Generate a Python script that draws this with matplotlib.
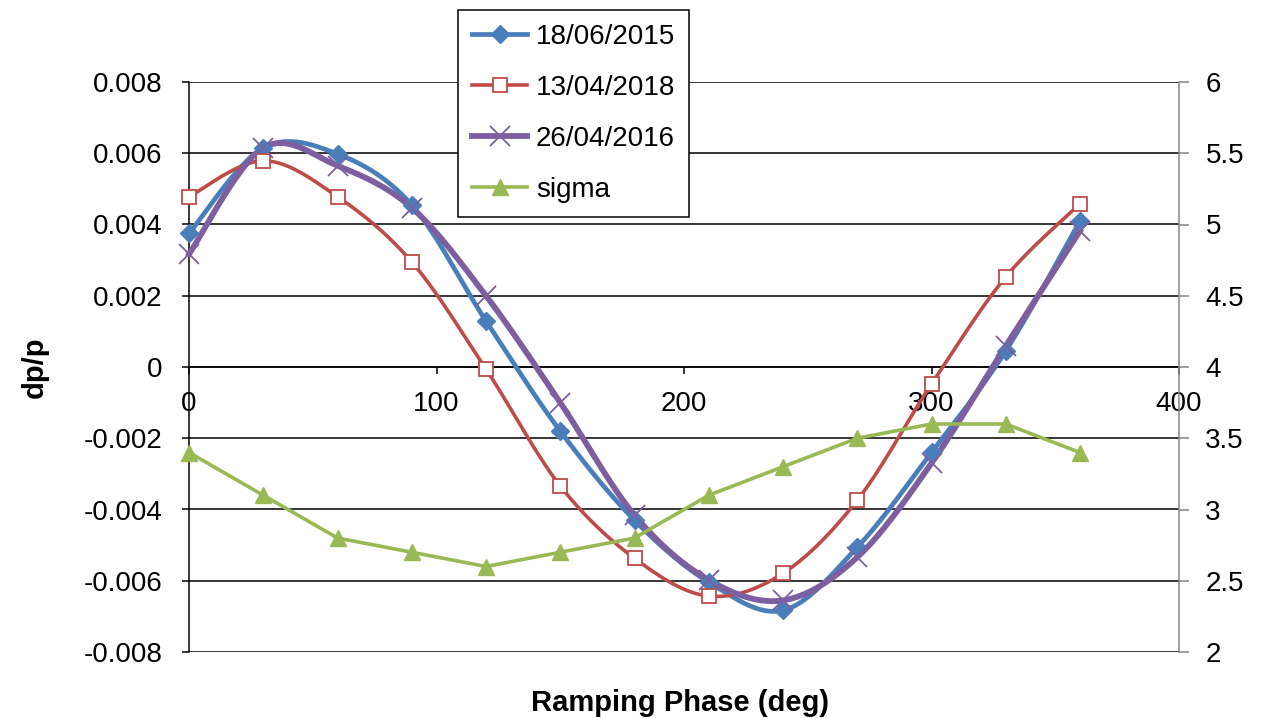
import numpy as np
import matplotlib
matplotlib.use("Agg")
import matplotlib.pyplot as plt

# --- Data ---
phase = [0, 30, 60, 90, 120, 150, 180, 210, 240, 270, 300, 330, 360]

dp_2015 = [0.00375, 0.00615, 0.00598, 0.00455, 0.00129, -0.00180, -0.00430,
           -0.00604, -0.00683, -0.00506, -0.00240, 0.00045, 0.00410]
dp_2018 = [0.00478, 0.00579, 0.00478, 0.00295, -0.00006, -0.00334, -0.00537,
           -0.00643, -0.00579, -0.00374, -0.00048, 0.00253, 0.00458]
dp_2016 = [0.00317, 0.00615, 0.00565, 0.00447, 0.00200, -0.00100, -0.00416,
           -0.00598, -0.00655, -0.00534, -0.00270, 0.00059, 0.00382]
sigma = [3.4, 3.1, 2.8, 2.7, 2.6, 2.7, 2.8, 3.1, 3.3, 3.5, 3.6, 3.6, 3.4]

left_ticks = [-0.008, -0.006, -0.004, -0.002, 0, 0.002, 0.004, 0.006, 0.008]
right_ticks = [2, 2.5, 3, 3.5, 4, 4.5, 5, 5.5, 6]
x_ticks = [0, 100, 200, 300, 400]

BLUE = "#4A7EBB"
RED = "#BE4B48"
PURPLE = "#7D5FA0"
GREEN = "#98B954"
GREY = "#868686"


def smooth(xs, ys, n=30):
    """Excel-like smoothed line (Catmull-Rom through the points)."""
    p = np.column_stack([xs, ys]).astype(float)
    p = np.vstack([p[0], p, p[-1]])
    out = []
    t = np.linspace(0, 1, n)[:, None]
    for i in range(1, len(p) - 2):
        p0, p1, p2, p3 = p[i - 1], p[i], p[i + 1], p[i + 2]
        c1 = p1 + (p2 - p0) / 6.0
        c2 = p2 - (p3 - p1) / 6.0
        seg = ((1 - t) ** 3) * p1 + 3 * ((1 - t) ** 2) * t * c1 \
            + 3 * (1 - t) * t ** 2 * c2 + t ** 3 * p2
        out.append(seg if i == 1 else seg[1:])
    out = np.vstack(out)
    return out[:, 0], out[:, 1]


plt.rcParams['font.family'] = ['Liberation Sans', 'DejaVu Sans']
plt.rcParams['axes.unicode_minus'] = False

fig = plt.figure(figsize=(12.71, 7.18), dpi=100)
ax = fig.add_axes([189 / 1271, 1 - 652 / 718, (1179 - 189) / 1271, (652 - 82) / 718])
ax2 = ax.twinx()

# --- Primary axis series ---
series = [
    (dp_2015, BLUE, 3.4, dict(marker='D', ms=9, mfc=BLUE, mec=BLUE), "18/06/2015"),
    (dp_2018, RED, 2.6, dict(marker='s', ms=10, mfc='white', mec=RED, mew=1.3), "13/04/2018"),
    (dp_2016, PURPLE, 4.2, dict(marker='x', ms=14, mec=PURPLE, mew=1.3), "26/04/2016"),
]
handles = []
for ys, col, lw, mk, lab in series:
    sx, sy = smooth(phase, ys)
    ax.plot(sx, sy, color=col, lw=lw, clip_on=False, zorder=3)
    ax.plot(phase, ys, ls='none', clip_on=False, zorder=4, **mk)
    h, = ax.plot([], [], color=col, lw=lw, **mk)
    h.set_label(lab)
    handles.append(h)

# --- Secondary axis: sigma ---
hs, = ax2.plot(phase, sigma, color=GREEN, lw=2.6, marker='^', ms=11,
               mfc=GREEN, mec=GREEN, clip_on=False, label="sigma")
handles.append(hs)

ax.set_xlim(0, 400)
ax.set_ylim(-0.008, 0.008)
ax2.set_ylim(2, 6)

ax.set_xticks(x_ticks)
ax.set_xticklabels([str(v) for v in x_ticks])
ax.set_yticks(left_ticks)
ax.set_yticklabels(["0" if v == 0 else f"{v:.3f}" for v in left_ticks])
ax2.set_yticks(right_ticks)
ax2.set_yticklabels([f"{v:g}" for v in right_ticks])

ax.grid(axis='y', color='black', lw=1.1)
ax.set_axisbelow(True)

for s in ['top', 'right']:
    ax.spines[s].set_visible(False)
ax.spines['bottom'].set_position(('data', 0))
ax.spines['bottom'].set_linewidth(1.1)
ax.spines['left'].set_linewidth(1.1)
for s in ['top', 'left', 'bottom']:
    ax2.spines[s].set_visible(False)
ax2.spines['right'].set_color(GREY)
ax2.spines['right'].set_linewidth(1.1)

ax.tick_params(axis='y', direction='out', length=5, width=1.1, labelsize=20, pad=14)
ax.tick_params(axis='x', direction='out', length=5, width=1.1, labelsize=20, pad=12)
ax2.tick_params(axis='y', direction='out', length=7, width=1.1, color=GREY,
                labelsize=20, pad=12)

ax.set_ylabel("dp/p", fontsize=21, fontweight='bold')
ax.yaxis.set_label_coords(-140 / 990, 0.5)
fig.text(0.5 * (189 + 1179) / 1271 - 0.003, 1 - 703 / 718, "Ramping Phase (deg)",
         fontsize=21, fontweight='bold', ha='center', va='center')

leg = ax2.legend(handles=handles, loc='upper left',
                 bbox_to_anchor=(458 / 1271, 1 - 10 / 718),
                 bbox_transform=fig.transFigure, borderaxespad=0,
                 fontsize=20, fancybox=False, framealpha=1, edgecolor='black',
                 handlelength=2.0, labelspacing=0.9, handletextpad=0.3,
                 borderpad=0.5)
leg.get_frame().set_linewidth(1.1)
leg.set_zorder(10)

plt.savefig("out.png", dpi=100)
